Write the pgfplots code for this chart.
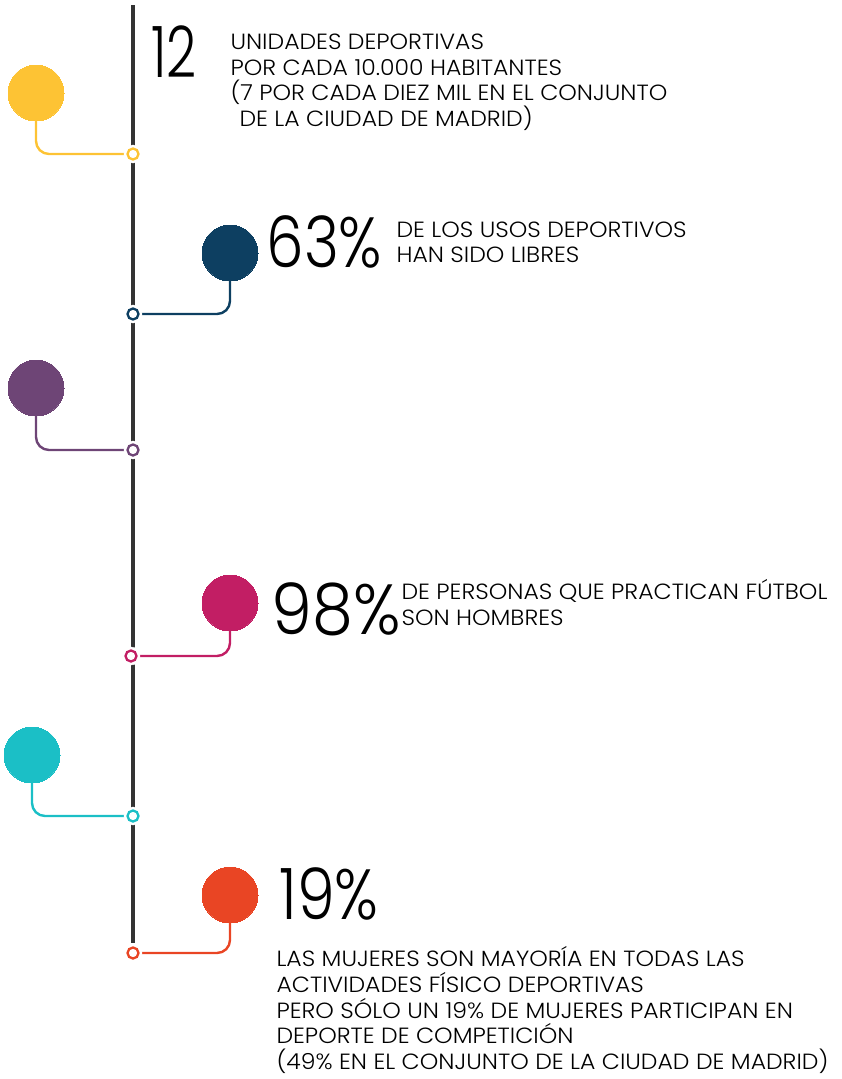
\documentclass[border=0pt]{standalone}
\usepackage{fontspec}
\usepackage{pgfplots}
\pgfplotsset{compat=1.18}
\newfontfamily\txtfont{Poppins Light}[FakeStretch=1.07]
\newfontfamily\numfont{Poppins Light}
\newcommand\txt{\txtfont\fontsize{22}{25}\selectfont}
\newcommand\bignum{\numfont\fontsize{71}{71}\selectfont}
\definecolor{cyel}{HTML}{FDC334}
\definecolor{cnavy}{HTML}{0D3F61}
\definecolor{cpurp}{HTML}{6E4576}
\definecolor{cpink}{HTML}{C21E64}
\definecolor{ccyan}{HTML}{1BBFC6}
\definecolor{cora}{HTML}{E94524}
\definecolor{cline}{HTML}{333333}
\definecolor{ctext}{HTML}{262626}
\pgfplotsset{
  ring/.style={only marks, mark=*, color=#1, line width=2.3pt, mark size=5.5pt,
    mark options={draw=#1, fill=white, line width=2.3pt}},
  halo/.style={only marks, mark=*, color=white, mark size=9pt,
    mark options={draw=none, fill=white}},
  dot/.style={only marks, mark=*, color=#1, mark size=28pt,
    mark options={draw=#1, fill=#1, line width=0pt}},
  conn/.style={color=#1, line width=2.4pt, rounded corners=13pt},
}
\begin{document}
\begin{tikzpicture}
\begin{axis}[
  width=842pt, height=1079pt, scale only axis,
  xmin=0, xmax=842, ymin=0, ymax=1079, y dir=reverse,
  hide axis, clip=false,
  every node/.style={inner sep=0pt, text=ctext},
]
\path (axis cs:0,0) (axis cs:842,1079);
% main timeline
\addplot[cline, line width=3.2pt] coordinates {(133,5) (133,943)};
% connectors
\addplot[conn=cyel] coordinates {(36,115) (36,154) (126,154)};
\addplot[conn=cnavy] coordinates {(230,275) (230,314) (140,314)};
\addplot[conn=cpurp] coordinates {(36,410) (36,450) (126,450)};
\addplot[conn=cpink] coordinates {(230,625) (230,656) (138,656)};
\addplot[conn=ccyan] coordinates {(32,777) (32,816) (126,816)};
\addplot[conn=cora] coordinates {(230,917) (230,953) (140,953)};
% white halos and rings on the timeline
\addplot[halo] coordinates {(133,154) (133,314) (133,450) (131,656) (133,816) (133,953)};
\addplot[ring=cyel] coordinates {(133,154)};
\addplot[ring=cnavy] coordinates {(133,314)};
\addplot[ring=cpurp] coordinates {(133,450)};
\addplot[ring=cpink] coordinates {(131,656)};
\addplot[ring=ccyan] coordinates {(133,816)};
\addplot[ring=cora] coordinates {(133,953)};
% big dots
\addplot[dot=cyel] coordinates {(36,93)};
\addplot[dot=cnavy] coordinates {(230,253)};
\addplot[dot=cpurp] coordinates {(36,388)};
\addplot[dot=cpink] coordinates {(230,603)};
\addplot[dot=ccyan] coordinates {(32,755)};
\addplot[dot=cora] coordinates {(230,895)};
% texts
\node[anchor=base west, font=\bignum] at (axis cs:148,77.5) {\scalebox{0.74}[1]{12}};
\node[anchor=base west, font=\txt] at (axis cs:227,49.5) {UNIDADES DEPORTIVAS};
\node[anchor=base west, font=\txt] at (axis cs:227,75) {POR CADA 10.000 HABITANTES};
\node[anchor=base west, font=\txt] at (axis cs:227,100.5) {(7 POR CADA DIEZ MIL EN EL CONJUNTO};
\node[anchor=base west, font=\txt] at (axis cs:236,126) {DE LA CIUDAD DE MADRID)};
\node[anchor=base west, font=\bignum] at (axis cs:263,267) {\scalebox{0.84}[1]{63\%}};
\node[anchor=base west, font=\txt] at (axis cs:393,237) {DE LOS USOS DEPORTIVOS};
\node[anchor=base west, font=\txt] at (axis cs:393,262) {HAN SIDO LIBRES};
\node[anchor=base west, font=\bignum] at (axis cs:268,634) {\scalebox{0.92}[1]{98\%}};
\node[anchor=base west, font=\txt] at (axis cs:398,599) {DE PERSONAS QUE PRACTICAN FÚTBOL};
\node[anchor=base west, font=\txt] at (axis cs:398,625) {SON HOMBRES};
\node[anchor=base west, font=\bignum] at (axis cs:276,919) {\scalebox{0.85}[1]{19\%}};
\node[anchor=base west, font=\txt] at (axis cs:273,966.5) {LAS MUJERES SON MAYORÍA EN TODAS LAS};
\node[anchor=base west, font=\txt] at (axis cs:273,992.3) {ACTIVIDADES FÍSICO DEPORTIVAS};
\node[anchor=base west, font=\txt] at (axis cs:273,1018.1) {PERO SÓLO UN 19\% DE MUJERES PARTICIPAN EN};
\node[anchor=base west, font=\txt] at (axis cs:273,1043.9) {DEPORTE DE COMPETICIÓN};
\node[anchor=base west, font=\txt] at (axis cs:273,1069.7) {(49\% EN EL CONJUNTO DE LA CIUDAD DE MADRID)};
\end{axis}
\end{tikzpicture}
\end{document}
